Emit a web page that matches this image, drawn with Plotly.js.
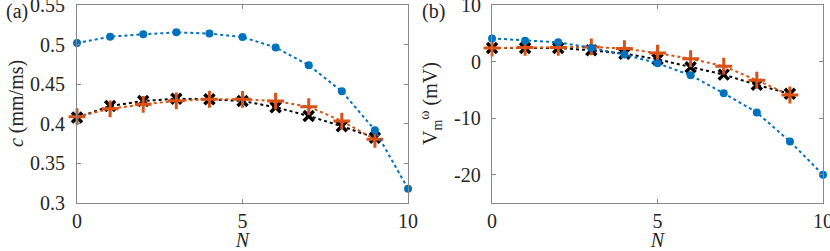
<!DOCTYPE html>
<html>
<head>
<meta charset="utf-8">
<script src="https://cdn.plot.ly/plotly-3.0.1.min.js"></script>
<style>html,body{margin:0;padding:0;background:#fff;}#chart{width:830px;height:251px;}</style>
</head>
<body>
<div id="chart"></div>
<script>
// Data
const N_blue = [0,1,2,3,4,5,6,7,8,9,10];
const N_short = [0,1,2,3,4,5,6,7,8,9];
const c_blue = [0.502,0.510,0.513,0.5155,0.514,0.5095,0.4965,0.474,0.441,0.392,0.318];
const c_black = [0.408,0.4225,0.4288,0.4317,0.431,0.4288,0.421,0.410,0.397,0.3825];
const c_orange = [0.409,0.419,0.4246,0.429,0.431,0.431,0.4288,0.4217,0.4035,0.3804];
const v_blue = [4.1,3.7,3.4,2.4,1.25,-0.3,-2.4,-5.6,-9.0,-14.1,-20.0];
const v_black = [2.4,2.4,2.4,2.0,1.4,0.4,-1.0,-2.3,-4.1,-5.7];
const v_orange = [2.4,2.5,2.5,2.6,2.3,1.5,0.5,-0.8,-3.3,-5.9];
const xTicks = [0,5,10];
const cTicks = [0.3,0.35,0.4,0.45,0.5,0.55];
const cTickText = ['0.3','0.35','0.4','0.45','0.5','0.55'];
const vTicks = [-20,-10,0,10];
const vTickText = ['-20','-10','0','10'];

const BLUE='#0072BD', ORANGE='#D95319', BLACK='#000000';
function F(){ return {family:'"Liberation Serif"', size:20, color:'#262626'}; }
function tr(x,y,color,sym,size,xa,ya,mline){
  return {x:x,y:y,xaxis:xa,yaxis:ya,type:'scatter',mode:'lines+markers',cliponaxis:false,
    line:{color:color,width:2,dash:'dot'},
    marker:{color:color,symbol:sym,size:size,line:{color:color,width:mline}},showlegend:false};
}
const data = [
  tr(N_short,c_black,BLACK,'x-thin',10,'x','y',3.5),
  tr(N_short,c_orange,ORANGE,'cross-thin',12,'x','y',3),
  tr(N_blue,c_blue,BLUE,'circle',8,'x','y',0),
  tr(N_short,v_black,BLACK,'x-thin',10,'x2','y2',3.5),
  tr(N_short,v_orange,ORANGE,'cross-thin',12,'x2','y2',3),
  tr(N_blue,v_blue,BLUE,'circle',8,'x2','y2',0)
];
function xax(dom, anchor){
  return {domain:dom, anchor:anchor, range:[0,10], tickmode:'array', tickvals:xTicks, ticktext:xTicks.map(String),
    ticks:'inside', ticklen:4, tickcolor:'#888', ticklabeloverflow:'allow',
    showline:true, linecolor:'#888', linewidth:1, mirror:'ticks', showgrid:false, zeroline:false,
    tickfont:F(), title:{text:'<i>N</i>', font:F(), standoff:8}};
}
function yax(dom, anchor, range, ticks){
  return {domain:dom, anchor:anchor, range:range, tickmode:'array', tickvals:ticks, showticklabels:false,
    ticks:'inside', ticklen:4, tickcolor:'#888',
    showline:true, linecolor:'#888', linewidth:1, mirror:'ticks', showgrid:false, zeroline:false};
}
const YDOM=[0.191,0.980];
const annotations = [
  {text:'(a)', xref:'paper', yref:'paper', x:4/830, y:1-12/251, xanchor:'left', yanchor:'middle', showarrow:false, font:F()},
  {text:'(b)', xref:'paper', yref:'paper', x:420/830, y:1-12/251, xanchor:'left', yanchor:'middle', showarrow:false, font:F()},
  {text:'<i>c</i> (mm/ms)', xref:'paper', yref:'paper', x:16/830, y:(YDOM[0]+YDOM[1])/2, textangle:-90, xanchor:'center', yanchor:'middle', showarrow:false, font:F()},
  {text:'V<sub>m</sub><sup>ω</sup> (mV)', xref:'paper', yref:'paper', x:431/830, y:(YDOM[0]+YDOM[1])/2, textangle:-90, xanchor:'center', yanchor:'middle', showarrow:false, font:F()}
];
cTicks.forEach(function(v,i){
  annotations.push({text:cTickText[i], xref:'paper', yref:'y', x:67/830, y:v, xanchor:'right', yanchor:'middle', showarrow:false, font:F()});
});
vTicks.forEach(function(v,i){
  annotations.push({text:vTickText[i], xref:'paper', yref:'y2', x:483/830, y:v, xanchor:'right', yanchor:'middle', showarrow:false, font:F()});
});
const layout = {
  width:830, height:251, margin:{l:0,r:0,t:0,b:0}, paper_bgcolor:'#fff', plot_bgcolor:'#fff', font:F(),
  xaxis: xax([0.0928,0.4916],'y'),
  yaxis: yax(YDOM,'x',[0.3,0.55],cTicks),
  xaxis2: xax([0.5928,0.9916],'y2'),
  yaxis2: yax(YDOM,'x2',[-25,10],vTicks),
  annotations: annotations
};
Plotly.newPlot('chart', data, layout, {staticPlot:true});
</script>
</body>
</html>
